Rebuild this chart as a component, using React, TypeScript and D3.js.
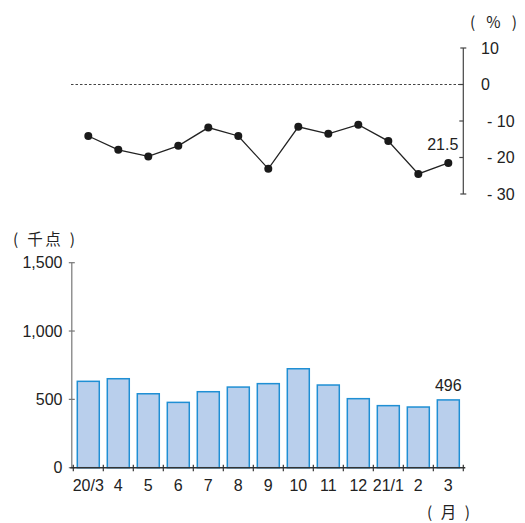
import { scaleBand, scaleLinear, line } from 'd3';

const months = ['20/3', '4', '5', '6', '7', '8', '9', '10', '11', '12', '21/1', '2', '3'];
const volumes = [632, 651, 541, 478, 556, 590, 615, 724, 605, 505, 454, 444, 496];
const changes = [-14.1, -17.9, -19.7, -16.8, -11.8, -14.1, -23.1, -11.6, -13.5, -11.0, -15.5, -24.5, -21.5];
const volumeTicks = [0, 500, 1000, 1500];
const changeTicks = [10, 0, -10, -20, -30];

const W = 525;
const H = 523;
const left = 73.3;
const right = 463.3;
const font = '"Liberation Sans", Arial, sans-serif';
const cjk = '"Noto Sans CJK JP", sans-serif';
const fmt = (v: number) => (v >= 1000 ? `${Math.floor(v / 1000)},${String(v % 1000).padStart(3, '0')}` : `${v}`);
const fmtPct = (v: number) => (v < 0 ? `- ${-v}` : `${v}`);

const App = () => {
  const x = scaleBand<string>().domain(months).range([left, right]).paddingInner(0.267).paddingOuter(0.133);
  const step = x.step();
  const yBar = scaleLinear().domain([0, 1500]).range([467.7, 262.7]);
  const yPct = scaleLinear().domain([-30, 10]).range([194, 48]);
  const cx = (m: string) => (x(m) as number) + x.bandwidth() / 2;

  const path = line<number>()
    .x((_, i) => cx(months[i]))
    .y((d) => yPct(d));

  const lastM = months[months.length - 1];
  const lastV = volumes[volumes.length - 1];
  const lastC = changes[changes.length - 1];

  return (
    <svg width={W} height={H} style={{ position: 'absolute', left: 0, top: 0 }} fontFamily={font}>
      <rect width={W} height={H} fill="#fff" />

      {/* top: percent change line */}
      <text x={470} y={28} fontFamily={cjk} fontSize={15.5} fill="#222" textLength={47} lengthAdjust="spacing">
        ( % )
      </text>
      <line x1={71} x2={right} y1={yPct(0)} y2={yPct(0)} stroke="#444" strokeWidth={1} strokeDasharray="2.5,2" />
      <line x1={right} x2={right} y1={yPct(10)} y2={yPct(-30)} stroke="#444" strokeWidth={1.2} />
      {changeTicks.map((t) => (
        <g key={t}>
          <line
            x1={t === 10 || t === -30 ? right - 3 : right - 4}
            x2={t === 10 || t === -30 ? right + 3 : right}
            y1={yPct(t)}
            y2={yPct(t)}
            stroke="#444"
            strokeWidth={1.2}
          />
          <text x={t < 0 ? 487 : 481} y={yPct(t)} dy="0.36em" fontSize={16} fill="#222">
            {fmtPct(t)}
          </text>
        </g>
      ))}
      <path d={path(changes) ?? ''} fill="none" stroke="#222" strokeWidth={1.3} />
      {changes.map((v, i) => (
        <circle key={i} cx={cx(months[i])} cy={yPct(v)} r={4} fill="#1a1a1a" />
      ))}
      <text x={cx(lastM) + 10} y={yPct(lastC) - 12.5} textAnchor="end" fontSize={16} fill="#222">
        {Math.abs(lastC)}
      </text>

      {/* bottom: volume bars */}
      <text x={13} y={245} fontFamily={cjk} fontSize={15.5} fill="#222" textLength={62} lengthAdjust="spacing">
        ( 千点 )
      </text>
      <line x1={left - 1.5} x2={left - 1.5} y1={yBar(1500)} y2={yBar(0)} stroke="#777" strokeWidth={1.2} />
      {volumeTicks.map((t) => (
        <g key={t}>
          <line x1={left - 4.5} x2={left + 1.5} y1={yBar(t)} y2={yBar(t)} stroke="#777" strokeWidth={1.2} />
          <text x={62.5} y={yBar(t)} dy="0.36em" textAnchor="end" fontSize={16} fill="#222">
            {fmt(t)}
          </text>
        </g>
      ))}
      {volumes.map((v, i) => (
        <rect
          key={i}
          x={x(months[i])}
          y={yBar(v)}
          width={x.bandwidth()}
          height={yBar(0) - yBar(v)}
          fill="#b9cfec"
          stroke="#1f8fd4"
          strokeWidth={1.5}
        />
      ))}
      <line x1={left - 3} x2={right + 2} y1={yBar(0)} y2={yBar(0)} stroke="#333" strokeWidth={1.5} />
      {months.map((_, i) => (
        <line
          key={i}
          x1={left + i * step}
          x2={left + i * step}
          y1={yBar(0) - 3}
          y2={yBar(0) + 3.5}
          stroke="#333"
          strokeWidth={1.2}
        />
      ))}
      <line x1={right} x2={right} y1={yBar(0) - 3} y2={yBar(0) + 3.5} stroke="#333" strokeWidth={1.2} />
      {months.map((m) => (
        <text key={m} x={cx(m)} y={491} textAnchor="middle" fontSize={16} fill="#222">
          {m}
        </text>
      ))}
      <text x={cx(lastM)} y={yBar(lastV) - 9} textAnchor="middle" fontSize={16} fill="#222">
        {lastV}
      </text>
      <text x={427} y={518} fontFamily={cjk} fontSize={15.5} fill="#222" textLength={43} lengthAdjust="spacing">
        ( 月 )
      </text>
    </svg>
  );
};

export default App;
